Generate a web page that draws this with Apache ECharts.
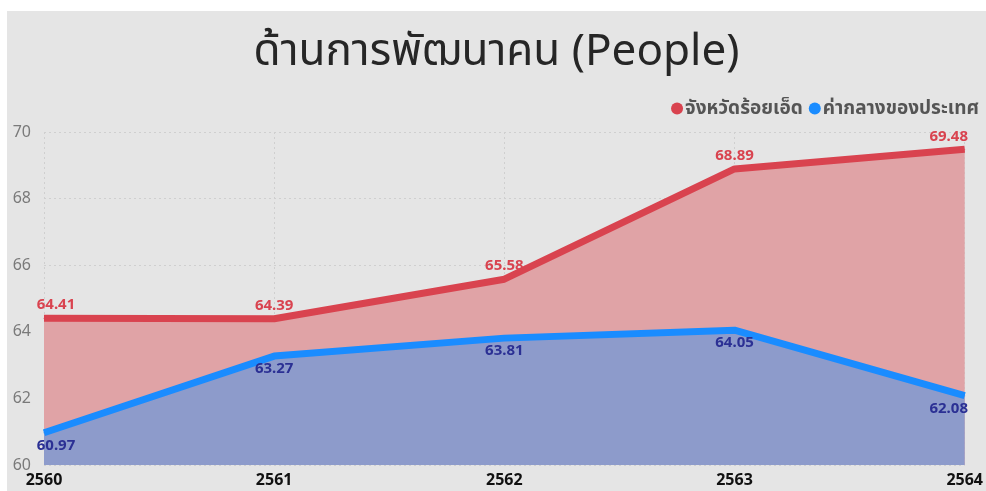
<!DOCTYPE html>
<html>
<head>
<meta charset="utf-8">
<script src="https://cdn.jsdelivr.net/npm/echarts@6/dist/echarts.min.js"></script>
<style>
  html, body { margin: 0; padding: 0; background: #ffffff; }
  #chart { position: absolute; left: 7px; top: 11px; width: 979px; height: 480px; background: #e5e5e5; }
</style>
</head>
<body>
<div id="chart"></div>
<script>
// ข้อมูล
const years = ['2560', '2561', '2562', '2563', '2564'];
const provinceValues = [64.41, 64.39, 65.58, 68.89, 69.48];
const nationalValues = [60.97, 63.27, 63.81, 64.05, 62.08];
const seriesNames = ['จังหวัดร้อยเอ็ด', 'ค่ากลางของประเทศ'];

const FONT = '"Segoe UI", "Noto Sans", "Noto Sans Thai", sans-serif';

/* ป้ายกำกับจุดแรก/สุดท้ายถูกเลื่อนเข้าด้านใน */
function withEdgeLabels(values) {
  return values.map((v, i) => {
    if (i === 0) return { value: v, label: { offset: [12, 0] } };
    if (i === values.length - 1) return { value: v, label: { offset: [-16, 0] } };
    return v;
  });
}

const chart = echarts.init(document.getElementById('chart'), null, { renderer: 'canvas' });

chart.setOption({
  backgroundColor: '#e5e5e5',
  animation: false,
  title: {
    text: 'ด้านการพัฒนาคน (People)',
    left: 'center',
    top: 14,
    textStyle: { fontFamily: FONT, fontSize: 44, fontWeight: 'normal', color: '#262626' }
  },
  legend: {
    right: 2,
    top: 83,
    icon: 'circle',
    itemWidth: 12,
    itemHeight: 12,
    itemGap: 6,
    textStyle: { fontFamily: FONT, fontSize: 19, fontWeight: 'bold', color: '#555555', padding: [0, 0, 0, -3] },
    data: seriesNames
  },
  grid: { left: 37, right: 17, top: 121, bottom: 26 },
  xAxis: {
    type: 'category',
    data: years,
    boundaryGap: false,
    axisLine: { show: false },
    axisTick: { show: false },
    axisLabel: { fontFamily: FONT, fontSize: 16, fontWeight: 'bold', color: '#111111', margin: 7 },
    splitLine: { show: true, lineStyle: { type: [2, 3], color: '#cfcfcf' } }
  },
  yAxis: {
    type: 'value',
    min: 60,
    max: 70,
    interval: 2,
    axisLine: { show: false },
    axisTick: { show: false },
    axisLabel: { fontFamily: FONT, fontSize: 16, color: '#7a7a7a', margin: 13 },
    splitLine: { lineStyle: { type: [2, 3], color: '#cfcfcf' } }
  },
  series: [
    {
      name: seriesNames[0],
      type: 'line',
      data: withEdgeLabels(provinceValues),
      symbol: 'circle',
      symbolSize: 1,
      showSymbol: true,
      lineStyle: { width: 7, color: '#d9434f' },
      itemStyle: { color: '#d9434f' },
      areaStyle: { color: '#e0a3a6', opacity: 1, origin: 'start' },
      label: {
        show: true,
        position: 'top',
        distance: 5,
        fontFamily: FONT,
        fontSize: 15,
        fontWeight: 'bold',
        color: '#d9434f'
      },
      z: 2
    },
    {
      name: seriesNames[1],
      type: 'line',
      data: withEdgeLabels(nationalValues),
      symbol: 'circle',
      symbolSize: 1,
      showSymbol: true,
      lineStyle: { width: 7, color: '#1a8cff' },
      itemStyle: { color: '#1a8cff' },
      areaStyle: { color: '#8d9bcb', opacity: 1, origin: 'start' },
      label: {
        show: true,
        position: 'bottom',
        distance: 5,
        fontFamily: FONT,
        fontSize: 15,
        fontWeight: 'bold',
        color: '#2b3094'
      },
      z: 3
    }
  ]
});
</script>
</body>
</html>
